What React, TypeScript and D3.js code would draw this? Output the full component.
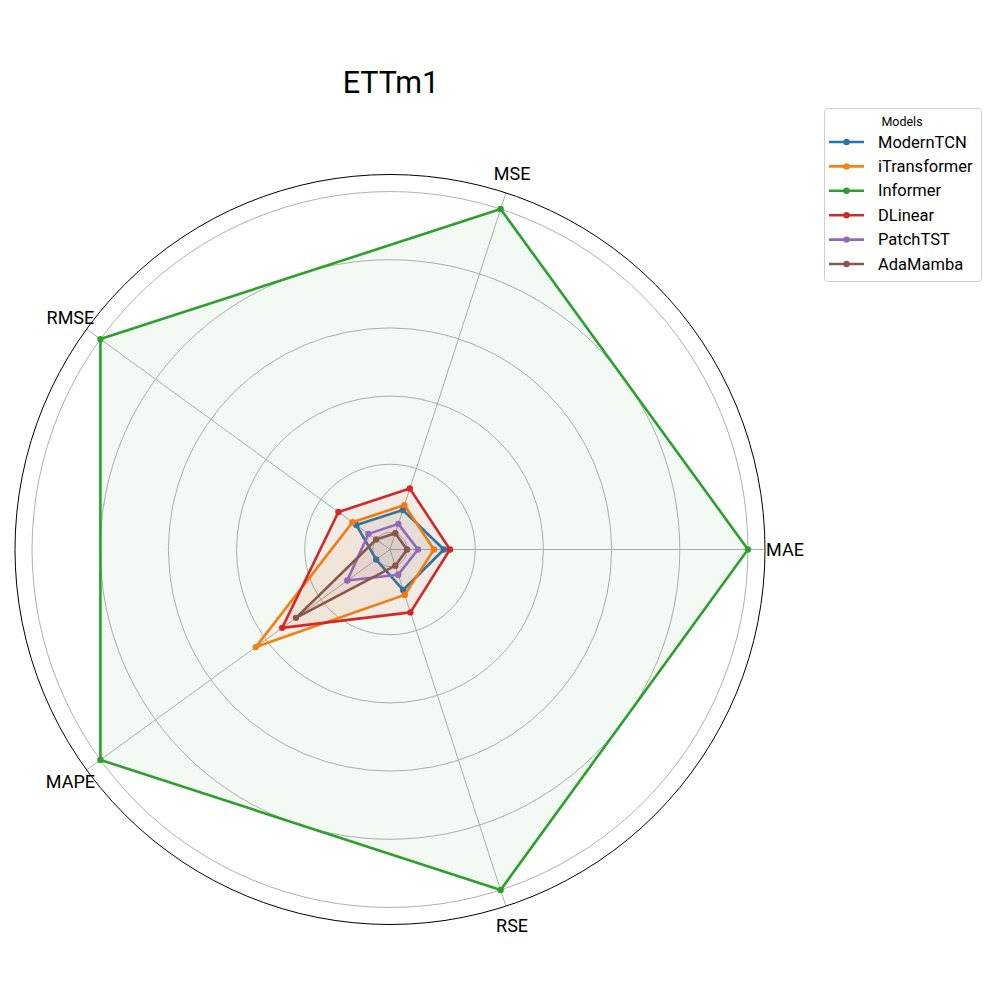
import React from "react";
import * as d3 from "d3";

const metrics = ["MAE", "MSE", "RMSE", "MAPE", "RSE"];
const models = ["ModernTCN", "iTransformer", "Informer", "DLinear", "PatchTST", "AdaMamba"];
const colors = ["#1f77b4", "#ff7f0e", "#2ca02c", "#d62728", "#9467bd", "#8c564b"];

// normalized scores, order: MAE, MSE, RMSE, MAPE, RSE
const modernTCN = [0.108, 0.072, 0.072, 0.0, 0.075];
const iTransformer = [0.079, 0.087, 0.086, 0.437, 0.09];
const informer = [1.0, 1.0, 1.0, 1.0, 1.0];
const dLinear = [0.126, 0.138, 0.137, 0.341, 0.144];
const patchTST = [0.032, 0.029, 0.028, 0.105, 0.028];
const adaMamba = [0.0, 0.0, 0.0, 0.291, 0.0];
const seriesValues = [modernTCN, iTransformer, informer, dLinear, patchTST, adaMamba];

const gridTicks = [0, 0.2, 0.4, 0.6, 0.8, 1.0];

const App = () => {
  const width = 1000;
  const height = 1000;
  const cx = 390;
  const cy = 549.5;
  const outerR = 375;

  const rScale = d3.scaleLinear().domain([-0.05, 1.05]).range([0, outerR]);
  const angle = d3
    .scaleLinear()
    .domain([0, metrics.length])
    .range([0, 2 * Math.PI]);

  // angle measured counter-clockwise from the right
  const pos = (i: number, v: number) => {
    const a = angle(i);
    const r = rScale(v);
    return [cx + r * Math.cos(a), cy - r * Math.sin(a)];
  };

  const line = d3
    .line<number>()
    .x((d, i) => pos(i, d)[0])
    .y((d, i) => pos(i, d)[1])
    .curve(d3.curveLinearClosed);

  const font = "Roboto, 'DejaVu Sans', sans-serif";

  return (
    <svg
      width={width}
      height={height}
      style={{ position: "absolute", left: 0, top: 0, background: "#fff" }}
    >
      <text x={cx + 1} y={82} textAnchor="middle" dominantBaseline="central" fontSize={30.5} fontFamily={font}>
        ETTm1
      </text>

      {gridTicks.map(t => (
        <circle key={t} cx={cx} cy={cy} r={rScale(t)} fill="none" stroke="#b0b0b0" strokeWidth={1} />
      ))}
      {metrics.map((m, i) => {
        const [x, y] = pos(i, 1.05);
        return <line key={m} x1={cx} y1={cy} x2={x} y2={y} stroke="#b0b0b0" strokeWidth={1} />;
      })}
      <circle cx={cx} cy={cy} r={outerR} fill="none" stroke="#000" strokeWidth={1} />

      {seriesValues.map((vals, k) => (
        <g key={models[k]}>
          <path d={line(vals) || ""} fill={colors[k]} fillOpacity={0.06} stroke={colors[k]} strokeWidth={2.6} strokeLinejoin="round" />
          {vals.map((v, i) => {
            const [x, y] = pos(i, v);
            return <circle key={i} cx={x} cy={y} r={3.2} fill={colors[k]} />;
          })}
        </g>
      ))}

      {metrics.map((m, i) => {
        const a = angle(i);
        const x = cx + 395 * Math.cos(a);
        const y = cy - 395 * Math.sin(a);
        return (
          <text key={m} x={x} y={y} textAnchor="middle" dominantBaseline="central" fontSize={18} fontFamily={font}>
            {m}
          </text>
        );
      })}

      <g transform="translate(824,108)">
        <rect x={0.5} y={0.5} width={157} height={173} rx={3} fill="#fff" stroke="#d0d0d0" strokeWidth={1} />
        <text x={78} y={13} textAnchor="middle" dominantBaseline="central" fontSize={12.5} fontFamily={font}>
          Models
        </text>
        {models.map((m, k) => {
          const y = 34 + k * 24.4;
          return (
            <g key={m}>
              <line x1={5} x2={40} y1={y} y2={y} stroke={colors[k]} strokeWidth={2.6} />
              <circle cx={22.5} cy={y} r={3.2} fill={colors[k]} />
              <text x={54} y={y} dominantBaseline="central" fontSize={16.5} fontFamily={font}>
                {m}
              </text>
            </g>
          );
        })}
      </g>
    </svg>
  );
};

export default App;
